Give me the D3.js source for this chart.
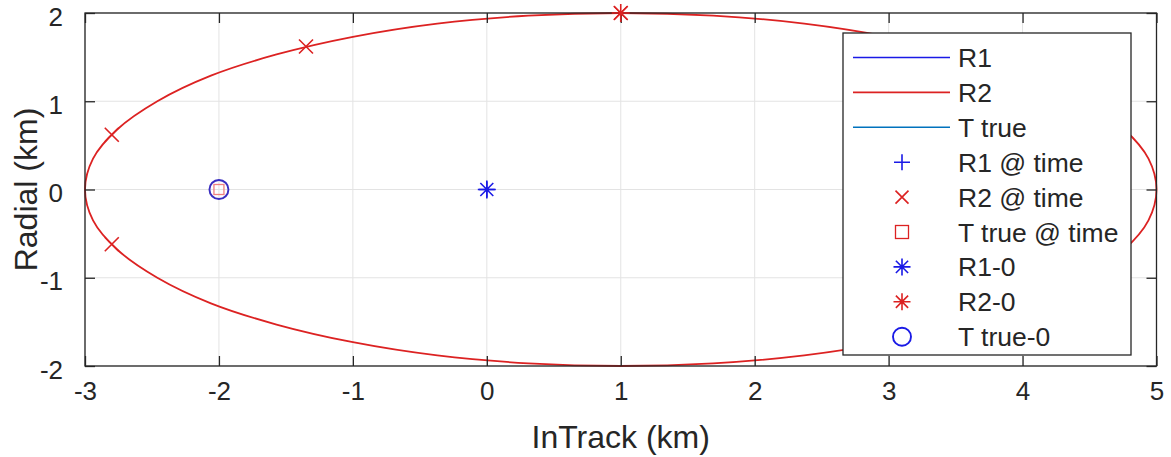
<!DOCTYPE html>
<html>
<head>
<meta charset="utf-8">
<script src="https://cdn.jsdelivr.net/npm/d3@7/dist/d3.min.js"></script>
<style>
  html, body { margin: 0; padding: 0; background: #fff; }
  svg text { font-family: Arial, "Liberation Sans", Helvetica, sans-serif; fill: #262626; }
</style>
</head>
<body>
<svg id="chart" width="1171" height="457"></svg>
<script>
// ---------------- data ----------------
const xTicks = [-3, -2, -1, 0, 1, 2, 3, 4, 5];
const yTicks = [-2, -1, 0, 1, 2];

// R2 trajectory
const r2X = [5.00, 4.94, 4.76, 4.46, 4.06, 3.57, 3.00, 2.37, 1.69, 1.00, 0.31, -0.37, -1.00, -1.57, -2.06, -2.46, -2.76, -2.94,
             -3.00, -2.94, -2.76, -2.46, -2.06, -1.57, -1.00, -0.37, 0.31, 1.00, 1.69, 2.37, 3.00, 3.57, 4.06, 4.46, 4.76, 4.94];
const r2Y = [0.00, 0.35, 0.68, 1.00, 1.29, 1.53, 1.73, 1.88, 1.97, 2.00, 1.97, 1.88, 1.73, 1.53, 1.29, 1.00, 0.68, 0.35,
             0.00, -0.35, -0.68, -1.00, -1.29, -1.53, -1.73, -1.88, -1.97, -2.00, -1.97, -1.88, -1.73, -1.53, -1.29, -1.00, -0.68, -0.35];
// R1 and T true trajectories (stationary in view)
const r1X = [0, 0];
const r1Y = [0, 0];
const tX = [-2, -2];
const tY = [0, 0];

// markers
const r1AtTimeX = [0];
const r1AtTimeY = [0];
const r2AtTimeX = [1.00, -1.35, -2.80, -2.80];
const r2AtTimeY = [2.00, 1.62, 0.62, -0.62];
const tAtTimeX = [-2];
const tAtTimeY = [0];
const r10 = [0, 0];
const r20 = [1, 2];
const t0 = [-2, 0];

const legendLabels = ["R1", "R2", "T true", "R1 @ time", "R2 @ time", "T true @ time", "R1-0", "R2-0", "T true-0"];

// ---------------- layout ----------------
const svg = d3.select("#chart");
const L = 85, R = 1156.5, T = 13, B = 366;
const x = d3.scaleLinear().domain([-3, 5]).range([L, R]);
const y = d3.scaleLinear().domain([-2, 2]).range([B, T]);

const axisCol = "#262626";
const gridCol = "#e3e3e3";
const red = "#dc2222";
const blue = "#1a1ae6";
const tBlue = "#0072BD";

// grid
const grid = svg.append("g");
grid.selectAll(".gx").data(xTicks).join("line")
  .attr("x1", d => x(d)).attr("x2", d => x(d)).attr("y1", T).attr("y2", B)
  .attr("stroke", gridCol).attr("stroke-width", 1);
grid.selectAll(".gy").data(yTicks).join("line")
  .attr("y1", d => y(d)).attr("y2", d => y(d)).attr("x1", L).attr("x2", R)
  .attr("stroke", gridCol).attr("stroke-width", 1);

// axes using d3 axis generators (ticks inward)
const tickLen = 10;
const fmt = d => d3.format("d")(d).replace("−", "-");
const xAxisB = d3.axisBottom(x).tickValues(xTicks).tickSize(-tickLen).tickPadding(20).tickFormat(fmt);
const xAxisT = d3.axisTop(x).tickValues(xTicks).tickSize(-tickLen).tickFormat("");
const yAxisL = d3.axisLeft(y).tickValues(yTicks).tickSize(-tickLen).tickPadding(22).tickFormat(fmt);
const yAxisR = d3.axisRight(y).tickValues(yTicks).tickSize(-tickLen).tickFormat("");

function styleAxis(g) {
  g.selectAll("path.domain").remove();
  g.selectAll(".tick line").attr("stroke", axisCol).attr("stroke-width", 1.3);
  g.selectAll("text").attr("font-size", 26).attr("fill", axisCol)
    .style("font-family", 'Arial, "Liberation Sans", Helvetica, sans-serif');
}

// R2 trajectory
const r2Pts = r2X.map((v, i) => [v, r2Y[i]]);
const line = d3.line().x(d => x(d[0])).y(d => y(d[1])).curve(d3.curveCatmullRomClosed.alpha(0.5));
svg.append("path").attr("d", line(r2Pts)).attr("fill", "none").attr("stroke", red).attr("stroke-width", 1.8);

const line2 = d3.line().x(d => x(d[0])).y(d => y(d[1]));
svg.append("path").attr("d", line2(r1X.map((v, i) => [v, r1Y[i]]))).attr("fill", "none").attr("stroke", blue).attr("stroke-width", 1.6);
svg.append("path").attr("d", line2(tX.map((v, i) => [v, tY[i]]))).attr("fill", "none").attr("stroke", tBlue).attr("stroke-width", 1.6);

svg.append("g").attr("transform", `translate(0,${B})`).call(xAxisB).call(styleAxis)
  .selectAll("text").attr("dy", "0.52em");
svg.append("g").attr("transform", `translate(0,${T})`).call(xAxisT).call(styleAxis);
svg.append("g").attr("transform", `translate(${L},0)`).call(yAxisL).call(styleAxis)
  .selectAll("text").attr("dy", "0.47em");
svg.append("g").attr("transform", `translate(${R},0)`).call(yAxisR).call(styleAxis);

// box
svg.append("rect").attr("x", L).attr("y", T).attr("width", R - L).attr("height", B - T)
  .attr("fill", "none").attr("stroke", axisCol).attr("stroke-width", 1.3);

// marker drawing helpers
function plus(g, cx, cy, s, col) {
  g.append("path").attr("d", `M${cx - s},${cy}H${cx + s}M${cx},${cy - s}V${cy + s}`)
    .attr("stroke", col).attr("stroke-width", 1.6).attr("fill", "none");
}
function cross(g, cx, cy, s, col) {
  g.append("path").attr("d", `M${cx - s},${cy - s}L${cx + s},${cy + s}M${cx - s},${cy + s}L${cx + s},${cy - s}`)
    .attr("stroke", col).attr("stroke-width", 1.6).attr("fill", "none");
}
function square(g, cx, cy, s, col) {
  g.append("rect").attr("x", cx - s).attr("y", cy - s).attr("width", 2 * s).attr("height", 2 * s)
    .attr("stroke", col).attr("stroke-width", 1.3).attr("fill", "none");
}
function star(g, cx, cy, s, col) {
  plus(g, cx, cy, s, col);
  const d = s * 0.72;
  cross(g, cx, cy, d, col);
  g.append("circle").attr("cx", cx).attr("cy", cy).attr("r", 2.2).attr("fill", col);
}
function circ(g, cx, cy, r, col) {
  g.append("circle").attr("cx", cx).attr("cy", cy).attr("r", r)
    .attr("stroke", col).attr("stroke-width", 1.9).attr("fill", "none");
}

const mk = svg.append("g");
r1AtTimeX.forEach((v, i) => plus(mk, x(v), y(r1AtTimeY[i]), 8, blue));
r2AtTimeX.forEach((v, i) => cross(mk, x(v), y(r2AtTimeY[i]), 7, red));
tAtTimeX.forEach((v, i) => square(mk, x(v), y(tAtTimeY[i]), 5, "#f08080"));
star(mk, x(r10[0]), y(r10[1]), 9, blue);
star(mk, x(r20[0]), y(r20[1]), 9, red);
circ(mk, x(t0[0]), y(t0[1]), 9.5, "#3a2ec0");

// axis labels
svg.append("text").attr("x", (L + R) / 2).attr("y", 448).attr("text-anchor", "middle")
  .attr("font-size", 32).text("InTrack (km)");
svg.append("text").attr("transform", `translate(37,${(T + B) / 2}) rotate(-90)`).attr("text-anchor", "middle")
  .attr("font-size", 32).text("Radial (km)");

// legend
const lg = svg.append("g");
const lx0 = 843, ly0 = 33, lx1 = 1131, ly1 = 355;
lg.append("rect").attr("x", lx0).attr("y", ly0).attr("width", lx1 - lx0).attr("height", ly1 - ly0)
  .attr("fill", "#fff").attr("stroke", axisCol).attr("stroke-width", 1.3);
const rowY = i => 57.5 + i * 34.9;
const mX = 902;
legendLabels.forEach((lab, i) => {
  const yy = rowY(i);
  if (i === 0) lg.append("line").attr("x1", 853).attr("x2", 950).attr("y1", yy).attr("y2", yy).attr("stroke", blue).attr("stroke-width", 1.6);
  if (i === 1) lg.append("line").attr("x1", 853).attr("x2", 950).attr("y1", yy).attr("y2", yy).attr("stroke", red).attr("stroke-width", 1.6);
  if (i === 2) lg.append("line").attr("x1", 853).attr("x2", 950).attr("y1", yy).attr("y2", yy).attr("stroke", tBlue).attr("stroke-width", 1.6);
  if (i === 3) plus(lg, mX, yy, 8, blue);
  if (i === 4) cross(lg, mX, yy, 6.5, red);
  if (i === 5) square(lg, mX, yy, 6.5, red);
  if (i === 6) star(lg, mX, yy, 8.5, blue);
  if (i === 7) star(lg, mX, yy, 8.5, red);
  if (i === 8) circ(lg, mX, yy, 9, blue);
  lg.append("text").attr("x", 958).attr("y", yy).attr("dy", "0.36em").attr("font-size", 26.5).text(lab);
});
</script>
</body>
</html>
